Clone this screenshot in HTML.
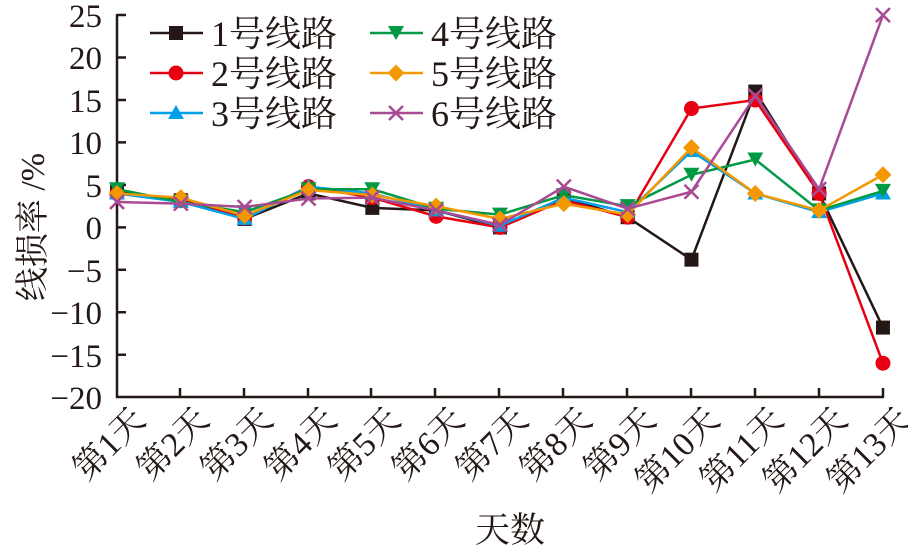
<!DOCTYPE html>
<html><head><meta charset="utf-8"><style>
html,body{margin:0;padding:0;background:#fff;}
svg{display:block;}
text{font-family:"Liberation Serif","Noto Serif CJK SC",serif;fill:#231815;}
</style></head><body>
<svg width="908" height="550" viewBox="0 0 908 550" xmlns="http://www.w3.org/2000/svg">
<g stroke="#231815" stroke-width="2.5" fill="none">
<path d="M117,14 V397 H884"/>
<path d="M117,15 h9 M117,57.5 h9 M117,100 h9 M117,142.4 h9 M117,184.9 h9 M117,227.4 h9 M117,269.8 h9 M117,312.3 h9 M117,354.7 h9"/>
<path d="M180,397 v-9 M244,397 v-9 M308,397 v-9 M371,397 v-9 M435,397 v-9 M499,397 v-9 M563,397 v-9 M627,397 v-9 M691,397 v-9 M755,397 v-9 M819,397 v-9 M883,397 v-9"/>
</g>
<g font-size="33" text-anchor="end">
<text x="102" y="27">25</text><text x="102" y="69">20</text><text x="102" y="112">15</text><text x="102" y="154">10</text><text x="102" y="197">5</text><text x="102" y="239">0</text><text x="102" y="282">−5</text><text x="102" y="324">−10</text><text x="102" y="367">−15</text><text x="102" y="409">−20</text>
</g>
<text font-size="34" transform="translate(44,227) rotate(-90)" text-anchor="middle">线损率 /%</text>
<text font-size="35" x="510" y="542" text-anchor="middle">天数</text>
<g font-size="34" text-anchor="end" id="xl"></g>
<g id="plot"></g>
<g id="leg"></g>
</svg>
<script>
var ns="http://www.w3.org/2000/svg";
function el(t,a,p){var e=document.createElementNS(ns,t);for(var k in a)e.setAttribute(k,a[k]);p.appendChild(e);return e;}
var xs=[],i;for(i=0;i<13;i++)xs.push(117+i*63.83);
var xl=document.getElementById('xl');
for(i=0;i<13;i++){var x=xs[i];var t=el('text',{transform:'translate('+(x+30)+',422) rotate(-45)'},xl);t.textContent='第'+(i+1)+'天';}
function Y(v){return 227.4-v*8.49;}
var S=[
['#231815','sq',[4.2,3.2,1.0,4.0,2.3,2.0,0,3.5,1.2,-3.8,16,4,-11.8]],
['#e60012','ci',[4.0,3.3,1.1,4.8,3.5,1.3,0,3.2,1.2,14,15,4,-16]],
['#00a0e9','tu',[4.0,3.0,1.0,4.8,4.0,2.0,0.2,3.5,1.8,9,4,1.8,4.0]],
['#009944','td',[4.5,3.0,1.8,4.5,4.5,2.2,1.5,3.8,2.5,6.2,8,2,4.3]],
['#f39800','di',[4.0,3.5,1.4,4.4,3.8,2.5,1.0,2.8,1.5,9.4,4.0,2.0,6.2]],
['#a84a94','x',[3.0,2.8,2.4,3.4,3.5,2.0,0.3,4.8,2.2,4.2,15.5,4.5,25]]];
function mk(g,c,m,x,y){
 if(m=='sq')el('rect',{x:x-7,y:y-7,width:14,height:14,fill:c},g);
 else if(m=='ci')el('circle',{cx:x,cy:y,r:7.5,fill:c},g);
 else if(m=='tu')el('path',{d:'M'+x+','+(y-8)+' l8,14 h-16z',fill:c},g);
 else if(m=='td')el('path',{d:'M'+(x-8)+','+(y-7)+' h16 l-8,14z',fill:c},g);
 else if(m=='di')el('path',{d:'M'+x+','+(y-8.5)+' l8.5,8.5 l-8.5,8.5 l-8.5,-8.5z',fill:c},g);
 else el('path',{d:'M'+(x-7)+','+(y-7)+' l14,14 M'+(x+7)+','+(y-7)+' l-14,14',stroke:c,'stroke-width':2.5,fill:'none'},g);
}
var P=document.getElementById('plot');
S.forEach(function(s){var d='';s[2].forEach(function(v,j){d+=(j?'L':'M')+xs[j]+','+Y(v);});
 el('path',{d:d,stroke:s[0],'stroke-width':2.5,fill:'none'},P);
 s[2].forEach(function(v,j){mk(P,s[0],s[1],xs[j],Y(v));});});
var L=document.getElementById('leg');
var names=['1号线路','2号线路','3号线路','4号线路','5号线路','6号线路'];
S.forEach(function(s,k){var col=k<3?0:1,row=k%3;var x0=150+col*220,y=33+row*40;
 el('path',{d:'M'+x0+','+y+' h53',stroke:s[0],'stroke-width':2.5},L);mk(L,s[0],s[1],x0+26,y);
 var t=el('text',{x:x0+61,y:y+13,'font-size':36},L);t.textContent=names[k];});
</script>
</body></html>
